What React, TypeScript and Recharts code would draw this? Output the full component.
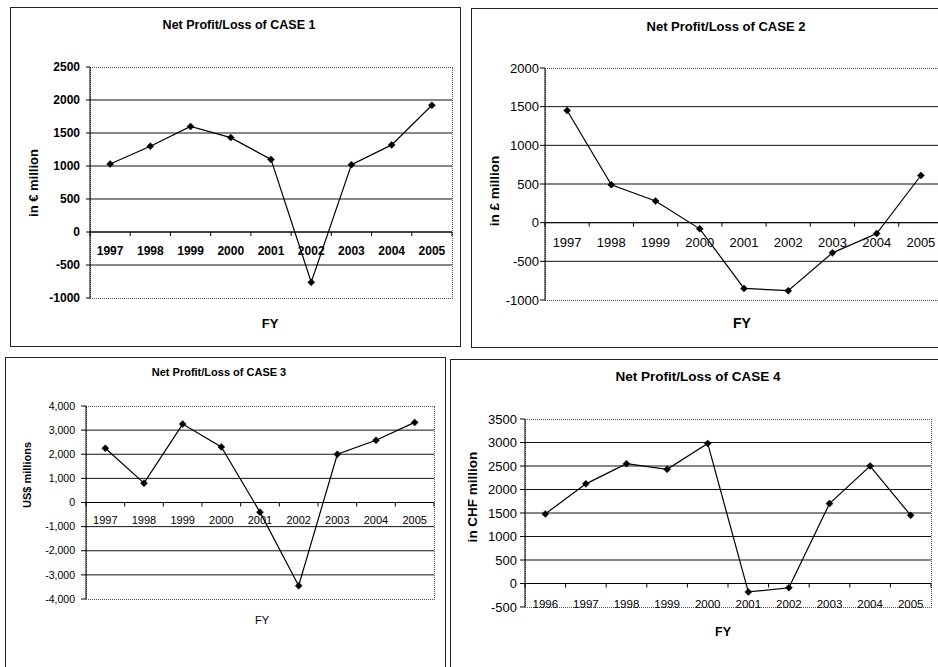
import React from 'react';
import { LineChart, Line, XAxis, YAxis, ReferenceLine } from 'recharts';

const FONT = '"Liberation Sans", Arial, Helvetica, sans-serif';

// ---- data ----
const case1Years = ['1997', '1998', '1999', '2000', '2001', '2002', '2003', '2004', '2005'];
const case1Values = [1030, 1300, 1600, 1430, 1100, -760, 1020, 1320, 1920];
const case1Ticks = [-1000, -500, 0, 500, 1000, 1500, 2000, 2500];

const case2Years = ['1997', '1998', '1999', '2000', '2001', '2002', '2003', '2004', '2005'];
const case2Values = [1450, 490, 280, -80, -850, -880, -390, -140, 610];
const case2Ticks = [-1000, -500, 0, 500, 1000, 1500, 2000];

const case3Years = ['1997', '1998', '1999', '2000', '2001', '2002', '2003', '2004', '2005'];
const case3Values = [2250, 800, 3250, 2300, -400, -3450, 2000, 2580, 3320];
const case3Ticks = [-4000, -3000, -2000, -1000, 0, 1000, 2000, 3000, 4000];

const case4Years = ['1996', '1997', '1998', '1999', '2000', '2001', '2002', '2003', '2004', '2005'];
const case4Values = [1480, 2120, 2550, 2430, 2980, -180, -90, 1700, 2500, 1450];
const case4Ticks = [-500, 0, 500, 1000, 1500, 2000, 2500, 3000, 3500];

const titles = [
  'Net Profit/Loss of CASE 1',
  'Net Profit/Loss of CASE 2',
  'Net Profit/Loss of CASE 3',
  'Net Profit/Loss of CASE 4',
];
const yTitles = ['in \u20ac million', 'in \u00a3 million', 'US$ millions', 'in CHF million'];
const xTitle = 'FY';

type Box = { l: number; t: number; r: number; b: number };
type TextStyle = { size: number; weight: number | string };

type PanelCfg = {
  years: string[];
  values: number[];
  ticks: number[];
  title: string;
  yTitle: string;
  frame: Box;
  plot: Box;
  yAxisWidth: number;
  yTickSize: number;
  yTickMargin: number;
  yTickFont: TextStyle;
  yFormat: (v: number) => string;
  xTickFont: TextStyle;
  xLabelMode: 'zero' | 'bottom';
  xLabelOffset: number;
  titlePos: [number, number];
  titleFont: TextStyle;
  yTitlePos: [number, number];
  yTitleFont: TextStyle;
  fyPos: [number, number];
  fyFont: TextStyle;
};

const plain = (v: number) => String(v);
const withCommas = (v: number) => v.toLocaleString('en-US');

const X_AXIS_H = 1;

const panels: PanelCfg[] = [
  {
    years: case1Years, values: case1Values, ticks: case1Ticks,
    title: titles[0], yTitle: yTitles[0],
    frame: { l: 10, t: 7, r: 461, b: 347 },
    plot: { l: 90, t: 67, r: 452, b: 298 },
    yAxisWidth: 50, yTickSize: 4, yTickMargin: 6,
    yTickFont: { size: 12, weight: 700 }, yFormat: plain,
    xTickFont: { size: 12, weight: 700 }, xLabelMode: 'zero', xLabelOffset: 19,
    titlePos: [239, 25], titleFont: { size: 12.5, weight: 700 },
    yTitlePos: [33, 183], yTitleFont: { size: 13, weight: 700 },
    fyPos: [270, 323], fyFont: { size: 13, weight: 700 },
  },
  {
    years: case2Years, values: case2Values, ticks: case2Ticks,
    title: titles[1], yTitle: yTitles[1],
    frame: { l: 471, t: 8, r: 960, b: 348 },
    plot: { l: 545, t: 68, r: 943, b: 300 },
    yAxisWidth: 50, yTickSize: 5, yTickMargin: 1,
    yTickFont: { size: 13, weight: 400 }, yFormat: plain,
    xTickFont: { size: 13, weight: 400 }, xLabelMode: 'zero', xLabelOffset: 19.5,
    titlePos: [726, 26], titleFont: { size: 13, weight: 700 },
    yTitlePos: [495, 191], yTitleFont: { size: 13.5, weight: 700 },
    fyPos: [742, 323], fyFont: { size: 14, weight: 700 },
  },
  {
    years: case3Years, values: case3Values, ticks: case3Ticks,
    title: titles[2], yTitle: yTitles[2],
    frame: { l: 5, t: 357, r: 446, b: 700 },
    plot: { l: 86, t: 406, r: 434, b: 599 },
    yAxisWidth: 50, yTickSize: 5, yTickMargin: 6,
    yTickFont: { size: 10.5, weight: 400 }, yFormat: withCommas,
    xTickFont: { size: 11, weight: 400 }, xLabelMode: 'zero', xLabelOffset: 17.5,
    titlePos: [219, 372], titleFont: { size: 11, weight: 700 },
    yTitlePos: [27, 475], yTitleFont: { size: 11, weight: 700 },
    fyPos: [262, 620], fyFont: { size: 11, weight: 400 },
  },
  {
    years: case4Years, values: case4Values, ticks: case4Ticks,
    title: titles[3], yTitle: yTitles[3],
    frame: { l: 450, t: 359, r: 960, b: 700 },
    plot: { l: 525, t: 419, r: 931, b: 607 },
    yAxisWidth: 50, yTickSize: 5, yTickMargin: 3,
    yTickFont: { size: 13, weight: 400 }, yFormat: plain,
    xTickFont: { size: 11.5, weight: 400 }, xLabelMode: 'bottom', xLabelOffset: -3,
    titlePos: [698, 377], titleFont: { size: 13.5, weight: 700 },
    yTitlePos: [473, 497], yTitleFont: { size: 13.5, weight: 700 },
    fyPos: [723, 632], fyFont: { size: 12.5, weight: 700 },
  },
];

// Small filled diamond marker for each data point
const Diamond = (props: any) => {
  const { cx, cy } = props;
  if (cx == null || cy == null) return null;
  const s = 3.5;
  return (
    <path
      d={`M${cx},${cy - s}L${cx + s},${cy}L${cx},${cy + s}L${cx - s},${cy}Z`}
      fill="#000"
      stroke="#000"
      strokeWidth={0.5}
    />
  );
};

function Panel({ cfg }: { cfg: PanelCfg }) {
  const { frame, plot, ticks } = cfg;
  const min = ticks[0];
  const max = ticks[ticks.length - 1];
  const width = frame.r - frame.l;
  const height = frame.b - frame.t;
  const plotW = plot.r - plot.l;
  const plotH = plot.b - plot.t;
  const n = cfg.years.length;
  const band = plotW / n;
  const margin = {
    left: plot.l - frame.l - cfg.yAxisWidth,
    top: plot.t - frame.t,
    right: frame.r - plot.r,
    bottom: frame.b - plot.b - X_AXIS_H,
  };
  const data = cfg.years.map((year, i) => ({ year, value: cfg.values[i] }));
  const gridValues = ticks.filter((v) => v !== min && v !== max);

  // Category labels sit on the zero line (or along the bottom edge) like a crossing axis
  const renderXTick = (props: any) => {
    const { x, y, payload, index } = props;
    const zeroY = y - (plotH * (0 - min)) / (max - min);
    const left = x - band / 2;
    const labelY = cfg.xLabelMode === 'zero' ? zeroY + cfg.xLabelOffset : y + cfg.xLabelOffset;
    return (
      <g>
        <line x1={left} x2={left} y1={zeroY} y2={zeroY + 4} stroke="#000" strokeWidth={1} />
        {index === n - 1 && (
          <line x1={left + band} x2={left + band} y1={zeroY} y2={zeroY + 4} stroke="#000" strokeWidth={1} />
        )}
        <text
          x={x}
          y={labelY}
          textAnchor="middle"
          dominantBaseline="central"
          fontFamily={FONT}
          fontSize={cfg.xTickFont.size}
          fontWeight={cfg.xTickFont.weight}
          fill="#000"
        >
          {payload.value}
        </text>
      </g>
    );
  };

  const textDiv = (
    content: string,
    pos: [number, number],
    font: TextStyle,
    rotate = false
  ) => (
    <div
      style={{
        position: 'absolute',
        left: pos[0],
        top: pos[1],
        transform: `translate(-50%, -50%)${rotate ? ' rotate(-90deg)' : ''}`,
        whiteSpace: 'nowrap',
        fontFamily: FONT,
        fontSize: font.size,
        fontWeight: font.weight as any,
        color: '#000',
        lineHeight: 1,
      }}
    >
      {content}
    </div>
  );

  return (
    <>
      {/* panel frame */}
      <div
        style={{
          position: 'absolute',
          left: frame.l,
          top: frame.t,
          width: width,
          height: height,
          boxSizing: 'border-box',
          border: '1px solid #222',
          background: '#fff',
        }}
      />
      {/* dotted plot-area border */}
      <div
        style={{
          position: 'absolute',
          left: plot.l,
          top: plot.t,
          width: plotW + 1,
          height: plotH + 1,
          boxSizing: 'border-box',
          border: '1px dotted #555',
        }}
      />
      <div style={{ position: 'absolute', left: frame.l, top: frame.t }}>
        <LineChart width={width} height={height} data={data} margin={margin}>
          {gridValues.map((v) => (
            <ReferenceLine key={v} y={v} stroke="#111" strokeWidth={1} ifOverflow="visible" />
          ))}
          <XAxis
            dataKey="year"
            type="category"
            height={X_AXIS_H}
            padding={{ left: band / 2, right: band / 2 }}
            axisLine={false}
            tickLine={false}
            tickSize={0}
            tickMargin={0}
            interval={0}
            tick={renderXTick}
          />
          <YAxis
            type="number"
            domain={[min, max]}
            ticks={ticks}
            interval={0}
            width={cfg.yAxisWidth}
            axisLine={{ stroke: '#000', strokeWidth: 1 }}
            tickLine={{ stroke: '#000', strokeWidth: 1 }}
            tickSize={cfg.yTickSize}
            tickMargin={cfg.yTickMargin}
            tickFormatter={cfg.yFormat}
            tick={{
              fill: '#000',
              fontSize: cfg.yTickFont.size,
              fontWeight: cfg.yTickFont.weight as any,
              fontFamily: FONT,
            }}
          />
          <ReferenceLine y={0} stroke="#000" strokeWidth={1} />
          <Line
            type="linear"
            dataKey="value"
            stroke="#000"
            strokeWidth={1.2}
            dot={<Diamond />}
            activeDot={false}
            isAnimationActive={false}
          />
        </LineChart>
      </div>
      {textDiv(cfg.title, cfg.titlePos, cfg.titleFont)}
      {textDiv(cfg.yTitle, cfg.yTitlePos, cfg.yTitleFont, true)}
      {textDiv(xTitle, cfg.fyPos, cfg.fyFont)}
    </>
  );
}

export default function App() {
  return (
    <div
      style={{
        position: 'absolute',
        left: 0,
        top: 0,
        width: 938,
        height: 667,
        overflow: 'hidden',
        background: '#fff',
      }}
    >
      {panels.map((cfg, i) => (
        <Panel key={i} cfg={cfg} />
      ))}
    </div>
  );
}
